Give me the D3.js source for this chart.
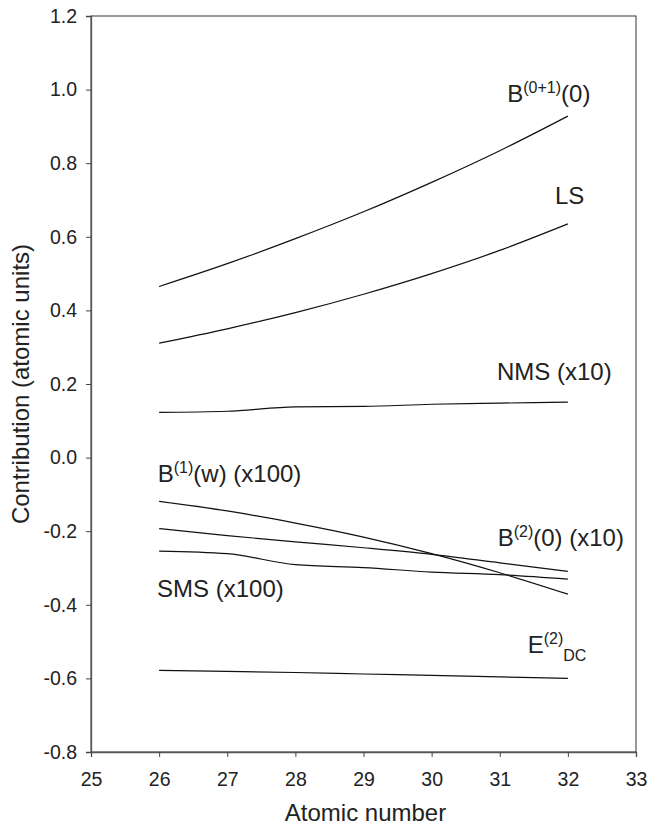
<!DOCTYPE html>
<html>
<head>
<meta charset="utf-8">
<script src="https://cdn.jsdelivr.net/npm/d3@7"></script>
<style>
  html, body { margin: 0; padding: 0; background: #fff; }
  svg { display: block; }
  text { font-family: "Liberation Sans", Arial, Helvetica, sans-serif; fill: #222; }
</style>
</head>
<body>
<svg id="chart" width="648" height="829"></svg>
<script>
// ---- data ----
const atomicNumbers = [26, 27, 28, 29, 30, 31, 32];
const b01Values  = [0.465, 0.527, 0.595, 0.668, 0.748, 0.834, 0.928];
const lsValues   = [0.311, 0.350, 0.394, 0.444, 0.500, 0.563, 0.635];
const nmsValues  = [0.123, 0.126, 0.138, 0.139, 0.145, 0.148, 0.151];
const b1wValues  = [-0.119, -0.145, -0.178, -0.216, -0.261, -0.313, -0.371];
const b20Values  = [-0.193, -0.212, -0.229, -0.245, -0.263, -0.286, -0.309];
const smsValues  = [-0.254, -0.261, -0.291, -0.299, -0.311, -0.318, -0.330];
const e2dcValues = [-0.578, -0.581, -0.584, -0.588, -0.592, -0.596, -0.600];
const xTicks = [25, 26, 27, 28, 29, 30, 31, 32, 33];
const yTicks = [-0.8, -0.6, -0.4, -0.2, 0.0, 0.2, 0.4, 0.6, 0.8, 1.0, 1.2];

const series = [b01Values, lsValues, nmsValues, b1wValues, b20Values, smsValues, e2dcValues];

// labels: parts [text, kind] with kind: n=normal, sup, sub ; anchored in data coords
const labels = [
  { x: 31.11, y: 0.966, parts: [["B","n"],["(0+1)","sup"],["(0)","n"]] },
  { x: 31.81, y: 0.689, parts: [["LS","n"]] },
  { x: 30.96, y: 0.211, parts: [["NMS (x10)","n"]] },
  { x: 25.98, y: -0.066, parts: [["B","n"],["(1)","sup"],["(w) (x100)","n"]] },
  { x: 30.97, y: -0.240, parts: [["B","n"],["(2)","sup"],["(0) (x10)","n"]] },
  { x: 25.97, y: -0.379, parts: [["SMS (x100)","n"]] },
  { x: 31.41, y: -0.531, parts: [["E","n"],["(2)","sup"],["DC","sub"]] }
];

// ---- layout ----
const svg = d3.select("#chart");
const mLeft = 91, mRight = 636, mTop = 16, mBottom = 752;

const x = d3.scaleLinear().domain([25, 33]).range([mLeft, mRight]);
const y = d3.scaleLinear().domain([-0.8, 1.2]).range([mBottom, mTop]);

// frame
svg.append("rect")
  .attr("x", mLeft).attr("y", mTop)
  .attr("width", mRight - mLeft).attr("height", mBottom - mTop)
  .attr("fill", "none").attr("stroke", "#333").attr("stroke-width", 1);

// axes
const xAxis = svg.append("g")
  .attr("transform", `translate(0,${mBottom})`)
  .call(d3.axisBottom(x).tickValues(xTicks).tickFormat(d3.format("d")).tickSizeOuter(0).tickSize(5).tickPadding(15));
const yAxis = svg.append("g")
  .attr("transform", `translate(${mLeft},0)`)
  .call(d3.axisLeft(y).tickValues(yTicks).tickFormat(d => d3.format(".1f")(d).replace("−", "-")).tickSizeOuter(0).tickSize(5).tickPadding(9));

[xAxis, yAxis].forEach(g => {
  g.select(".domain").attr("stroke", "#555").attr("stroke-width", 1.3);
  g.selectAll(".tick line").attr("stroke", "#444").attr("stroke-width", 1);
  g.selectAll(".tick text")
    .attr("font-size", 19.5)
    .attr("font-family", "Liberation Sans, Arial, sans-serif")
    .attr("fill", "#222");
});

// axis titles
svg.append("text")
  .attr("x", (mLeft + mRight) / 2 + 2).attr("y", 821)
  .attr("text-anchor", "middle").attr("font-size", 24)
  .text("Atomic number");
svg.append("text")
  .attr("transform", `translate(29,${(mTop + mBottom) / 2}) rotate(-90)`)
  .attr("text-anchor", "middle").attr("font-size", 24)
  .text("Contribution (atomic units)");

// lines
const line = d3.line()
  .x((d, i) => x(atomicNumbers[i]))
  .y(d => y(d))
  .curve(d3.curveMonotoneX);

svg.append("g").selectAll("path")
  .data(series).join("path")
  .attr("d", line)
  .attr("fill", "none")
  .attr("stroke", "#111")
  .attr("stroke-width", 1.2);

// labels
const fs = 24;
labels.forEach(l => {
  const t = svg.append("text")
    .attr("x", x(l.x)).attr("y", y(l.y))
    .attr("font-size", fs);
  let shift = 0;
  l.parts.forEach(([txt, kind]) => {
    let target = 0, size = fs;
    if (kind === "sup") { target = -9; size = 16; }
    if (kind === "sub") { target = 8; size = 16; }
    t.append("tspan")
      .attr("dy", target - shift)
      .attr("font-size", size)
      .text(txt);
    shift = target;
  });
});
</script>
</body>
</html>
